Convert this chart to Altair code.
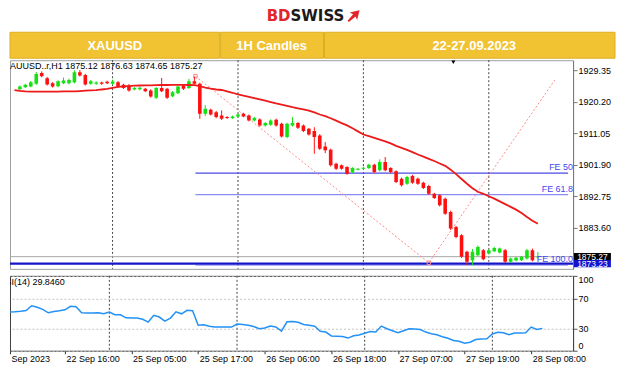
import json
import altair as alt
import pandas as pd

# ---------------- data ----------------
bars = list(range(96))
opens = [1923.84, 1924.42, 1924.63, 1925.38, 1928.56, 1927.03, 1925.58, 1924.71, 1925.58, 1925.58,
         1925.87, 1928.76, 1927.98, 1925.38, 1925.38, 1925.78, 1926.01, 1925.38, 1925.87, 1925.09,
         1925.00, 1923.76, 1923.80, 1923.93, 1923.47, 1921.32, 1924.21, 1923.93, 1921.82, 1922.68,
         1924.92, 1924.21, 1926.16, 1925.38, 1916.69, 1917.85, 1917.18, 1916.23, 1915.74, 1915.45,
         1915.94, 1916.69, 1916.23, 1914.78, 1915.07, 1913.33, 1913.51, 1914.96, 1913.80, 1909.95,
         1913.33, 1914.00, 1913.33, 1912.35, 1911.68, 1910.44, 1907.25, 1906.27, 1902.22, 1901.76,
         1901.26, 1899.81, 1900.48, 1900.77, 1900.97, 1901.93, 1900.31, 1902.71, 1900.97, 1900.02,
         1897.87, 1896.43, 1898.66, 1897.87, 1896.72, 1895.76, 1893.53, 1893.07, 1892.08, 1888.24,
         1883.89, 1881.49, 1876.66, 1874.25, 1875.70, 1877.15, 1876.16, 1876.86, 1876.45, 1877.15,
         1873.76, 1874.14, 1874.25, 1874.72, 1877.15, 1875.12]
highs = [1924.90, 1925.40, 1926.20, 1928.80, 1929.00, 1927.40, 1925.90, 1926.40, 1927.20, 1926.90,
         1929.30, 1929.40, 1928.30, 1926.50, 1926.10, 1926.00, 1926.30, 1926.60, 1926.20, 1925.40,
         1925.30, 1924.50, 1924.60, 1924.20, 1923.80, 1924.50, 1927.10, 1924.20, 1923.30, 1924.90,
         1925.20, 1926.83, 1927.52, 1925.70, 1919.21, 1918.20, 1917.50, 1917.68, 1916.00, 1916.20,
         1916.80, 1917.00, 1916.50, 1915.80, 1915.40, 1914.30, 1915.10, 1915.30, 1914.10, 1914.10,
         1915.74, 1914.30, 1913.60, 1912.60, 1912.80, 1910.80, 1908.50, 1906.60, 1902.50, 1902.00,
         1901.50, 1901.20, 1901.00, 1901.30, 1902.20, 1902.20, 1903.50, 1904.16, 1901.20, 1900.30,
         1898.20, 1898.70, 1899.00, 1898.20, 1897.00, 1896.10, 1893.80, 1893.40, 1892.40, 1888.60,
         1884.20, 1881.80, 1877.00, 1877.52, 1878.50, 1877.50, 1877.40, 1878.10, 1877.90, 1877.50,
         1875.00, 1875.20, 1875.50, 1877.50, 1877.60, 1876.63]
lows = [1923.60, 1924.20, 1924.40, 1925.10, 1927.30, 1924.90, 1924.30, 1924.40, 1925.30, 1925.20,
        1925.50, 1927.50, 1924.90, 1925.10, 1925.10, 1925.10, 1925.30, 1925.10, 1924.30, 1923.90,
        1923.10, 1923.50, 1923.50, 1923.00, 1921.40, 1921.00, 1923.00, 1921.00, 1921.50, 1922.40,
        1923.60, 1923.90, 1925.10, 1915.25, 1916.03, 1916.20, 1915.40, 1914.90, 1915.20, 1915.20,
        1915.70, 1915.70, 1914.50, 1914.50, 1913.00, 1913.00, 1913.20, 1913.00, 1909.80, 1909.60,
        1913.00, 1912.30, 1911.40, 1910.40, 1905.11, 1906.20, 1905.30, 1901.40, 1900.40, 1900.50,
        1899.00, 1899.50, 1900.30, 1900.50, 1900.70, 1899.50, 1900.00, 1900.00, 1899.50, 1896.60,
        1895.60, 1896.10, 1896.40, 1896.10, 1894.90, 1893.20, 1892.00, 1889.80, 1887.40, 1883.00,
        1880.60, 1874.90, 1872.80, 1872.80, 1875.40, 1874.20, 1875.90, 1876.60, 1876.20, 1873.40,
        1873.50, 1873.90, 1874.00, 1874.40, 1873.90, 1874.65]
closes = [1924.63, 1925.09, 1925.87, 1928.27, 1927.61, 1925.20, 1924.63, 1926.16, 1926.36, 1926.53,
          1928.76, 1927.81, 1925.20, 1926.16, 1925.78, 1925.38, 1925.58, 1926.07, 1924.63, 1924.21,
          1923.47, 1924.21, 1924.25, 1923.27, 1921.73, 1924.21, 1923.27, 1921.32, 1922.98, 1924.63,
          1923.93, 1926.16, 1925.38, 1916.69, 1918.14, 1916.52, 1915.74, 1915.25, 1915.45, 1915.94,
          1916.52, 1915.94, 1914.78, 1915.45, 1913.33, 1914.00, 1914.78, 1913.33, 1910.15, 1913.80,
          1914.00, 1912.64, 1911.68, 1910.73, 1909.95, 1906.56, 1906.10, 1901.76, 1900.77, 1900.77,
          1899.32, 1900.97, 1900.77, 1901.06, 1901.93, 1899.81, 1902.71, 1900.31, 1899.81, 1896.93,
          1895.96, 1898.37, 1896.72, 1896.43, 1895.18, 1893.53, 1892.29, 1890.17, 1887.74, 1883.40,
          1881.00, 1875.21, 1873.76, 1876.66, 1878.10, 1874.54, 1877.15, 1877.81, 1877.61, 1873.76,
          1874.72, 1874.92, 1875.21, 1877.15, 1874.25, 1875.27]

ind_bars = list(range(-1, 96))
ma_values = [1923.55, 1923.35, 1923.2, 1923.15, 1923.15, 1923.15, 1923.15, 1923.15, 1923.15, 1923.2,
             1923.2, 1923.2, 1923.3, 1923.4, 1923.5, 1923.55, 1923.75, 1923.9, 1924.2, 1924.5,
             1924.65, 1924.75, 1924.85, 1924.9, 1924.92, 1924.95, 1925.0, 1925.05, 1925.05, 1925.1,
             1925.1, 1925.1, 1925.05, 1925.0, 1924.7, 1924.3, 1924.0, 1923.75, 1923.6, 1923.2,
             1922.8, 1922.35, 1921.95, 1921.6, 1921.25, 1920.9, 1920.5, 1920.1, 1919.7, 1919.35,
             1919.0, 1918.6, 1918.3, 1917.95, 1917.6, 1917.1, 1916.5, 1916.0, 1915.4, 1914.7,
             1914.0, 1913.35, 1912.5, 1911.6, 1910.7, 1910.2, 1909.7, 1909.2, 1908.7, 1908.1,
             1907.4, 1906.8, 1906.25, 1905.6, 1904.9, 1904.3, 1903.65, 1903.0, 1902.3, 1901.6,
             1900.5, 1899.2, 1897.8, 1896.4, 1895.1, 1894.1, 1893.5, 1892.8, 1892.1, 1891.3,
             1890.5, 1889.7, 1888.9, 1887.9, 1886.8, 1885.7, 1884.8]
rsi_values = [51.6, 52.0, 52.7, 53.6, 60.0, 58.0, 55.3, 50.7, 52.4, 53.3,
              54.7, 59.3, 58.7, 50.7, 50.3, 50.3, 50.7, 49.3, 51.6, 48.0,
              48.0, 44.0, 43.7, 43.6, 42.0, 38.3, 47.3, 45.0, 39.6, 43.6,
              52.0, 49.3, 54.0, 53.3, 34.0, 34.7, 32.7, 31.6, 31.6, 31.6,
              31.6, 35.6, 35.0, 34.0, 32.3, 29.3, 30.3, 32.9, 31.7, 26.3,
              38.7, 39.0, 38.0, 35.0, 34.0, 32.7, 26.0, 24.9, 19.7, 19.3,
              19.0, 16.9, 20.0, 20.9, 23.3, 25.6, 24.9, 32.9, 29.3, 26.7,
              24.0, 26.7, 29.3, 28.9, 28.4, 24.9, 22.7, 21.3, 18.7, 16.7,
              13.7, 12.7, 10.0, 11.3, 14.9, 15.6, 16.0, 22.4, 24.7, 24.0,
              21.3, 23.6, 23.7, 24.0, 31.6, 28.4, 29.846]

tick_bars = [-0.9, 9, 21, 33, 45, 57, 69, 81, 93]
tick_labels = ["Sep 2023", "22 Sep 16:00", "25 Sep 05:00", "25 Sep 17:00", "26 Sep 06:00",
               "26 Sep 18:00", "27 Sep 07:00", "27 Sep 19:00", "28 Sep 08:00"]
day_separator_bars = [17, 40, 63, 86]
shift_marker_bar = [79.5]

price_ticks = [1929.35, 1920.20, 1911.05, 1901.90, 1892.75, 1883.60]
rsi_ticks = [0, 30, 70, 100]

fe_names = ["FE 50", "FE 61.8", "FE 100.0"]
fe_prices = [1899.52, 1893.24, 1872.80]
fe_start_bar = 32.2
fe_path_bars = [32.2, 75.0, 98.1]
fe_path_prices = [1927.6, 1873.5, 1926.5]

marker_prices = [1875.27, 1873.23]

banner_labels = ["XAUUSD", "1H Candles", "22-27.09.2023"]
logo_parts = ["BD", "SWISS"]

# ---------------- layout / style ----------------
FONT = "Liberation Sans"
GREEN = "#14e014"
RED = "#ff1010"
FE_COLORS = ["#4b4be6", "#8a8af2", "#9c9cf6"]
MARKER_COLORS = ["#000000", "#1414d0"]
W = 564
H_HEAD = 50
H_PRICE = 209
H_RSI = 75
X_DOMAIN = [-0.9, 100.54]
P_DOMAIN = [1871.73, 1932.24]
BANNER_CELLS = [(0, 210), (211, 314), (315, 606)]
BANNER_TEXT_X = [105, 262, 465]
ARROW_PATH = "M 1 -1 L -0.6 -0.6 L -0.05 -0.35 L -0.95 0.75 L -0.75 0.95 L 0.35 0.05 L 0.6 0.6 Z"

xscale = alt.Scale(domain=X_DOMAIN, nice=False, zero=False)
pscale = alt.Scale(domain=P_DOMAIN, nice=False, zero=False)
rscale = alt.Scale(domain=[0, 100], nice=False, zero=False)

paxis = alt.Axis(orient="right", values=price_ticks, format=".2f", title=None, grid=False,
                 tickSize=4, tickColor="#777", domainColor="#777", labelFont=FONT,
                 labelFontSize=9, labelColor="#000", labelPadding=1)
label_expr = f"{json.dumps(tick_labels)}[indexof({json.dumps(tick_bars)}, datum.value)]"
rxaxis = alt.Axis(values=tick_bars, labelExpr=label_expr, title=None, grid=False, domain=False,
                  tickSize=3, tickColor="#333", labelAlign="left", labelBaseline="top",
                  labelPadding=1, labelOffset=1, labelOverlap=False, labelFont=FONT,
                  labelFontSize=9, labelColor="#000")
ryaxis = alt.Axis(orient="right", values=rsi_ticks, title=None, grid=True, gridDash=[2, 2],
                  gridColor="#c4c4c4", labelFlush=True, tickSize=4, tickColor="#555",
                  domainColor="#444", labelFont=FONT, labelFontSize=9, labelColor="#000",
                  labelPadding=1)


def px(field):
    return alt.X(f"{field}:Q", scale=xscale, axis=None)


def py(field):
    return alt.Y(f"{field}:Q", scale=pscale, axis=paxis)


def rx(field):
    return alt.X(f"{field}:Q", scale=xscale, axis=rxaxis)


# ---------------- header ----------------
head_layers = []
for label, (x0, x1), tx in zip(banner_labels, BANNER_CELLS, BANNER_TEXT_X):
    d = pd.DataFrame({"label": [label]})
    head_layers.append(alt.Chart(d).mark_rect(fill="#F1C232", stroke="#DDAE22", strokeWidth=1).encode(
        x=alt.value(x0), x2=alt.value(x1), y=alt.value(24), y2=alt.value(50)))
    head_layers.append(alt.Chart(d).mark_text(font=FONT, fontSize=13, fontWeight="bold", color="white",
                                              align="center", baseline="middle").encode(
        x=alt.value(tx), y=alt.value(37.5), text="label:N"))
logo_bd = alt.Chart(pd.DataFrame({"t": [logo_parts[0]]})).mark_text(
    font="DejaVu Sans", fontSize=15, fontWeight="bold", color="#e3242b", align="right", baseline="top"
).encode(x=alt.value(281), y=alt.value(1), text="t:N")
logo_sw = alt.Chart(pd.DataFrame({"t": [logo_parts[1]]})).mark_text(
    font="DejaVu Sans", fontSize=15, fontWeight="bold", color="#1a1a1a", align="left", baseline="top"
).encode(x=alt.value(281), y=alt.value(1), text="t:N")
logo_arrow = alt.Chart(pd.DataFrame({"t": [1]})).mark_point(
    shape=ARROW_PATH, filled=True, color="#e3242b", size=150, opacity=1
).encode(x=alt.value(344), y=alt.value(8))
header = alt.layer(*head_layers, logo_bd, logo_sw, logo_arrow).properties(
    width=W, height=H_HEAD, view=alt.ViewBackground(stroke=None))

# ---------------- price panel ----------------
candles = pd.DataFrame({"bar": bars, "open": opens, "high": highs, "low": lows, "close": closes})
up = candles[candles["close"] >= candles["open"]]
down = candles[candles["close"] < candles["open"]]

ind = pd.DataFrame({"bar": ind_bars, "ma": ma_values, "rsi": rsi_values})

candle_layers = []
for d, col in ((up, GREEN), (down, RED)):
    candle_layers.append(alt.Chart(d).mark_rule(strokeWidth=1, color=col, clip=True).encode(
        x=px("bar"), y=py("low"), y2="high:Q"))
    candle_layers.append(alt.Chart(d).mark_bar(size=3.6, color=col, clip=True).encode(
        x=px("bar"), y=py("open"), y2="close:Q"))

ma_line = alt.Chart(ind).mark_line(color="#ec1a1a", strokeWidth=1.8, clip=True).encode(
    x=px("bar"), y=py("ma"))

seps = pd.DataFrame({"bar": day_separator_bars})
sep_price = alt.Chart(seps).mark_rule(color="#444", strokeDash=[2, 2], strokeWidth=1).encode(x=px("bar"))

fe_path = pd.DataFrame({"bar": fe_path_bars, "price": fe_path_prices})
fe_line = alt.Chart(fe_path).mark_line(color="#ff8a8a", strokeDash=[2, 2], strokeWidth=1, clip=True).encode(
    x=px("bar"), y=py("price"))
fe_pts = alt.Chart(fe_path.iloc[:2]).mark_point(shape="square", size=12, color="#ff8a8a", strokeWidth=1,
                                                  filled=False, opacity=1, clip=True).encode(
    x=px("bar"), y=py("price"))

fe_df = pd.DataFrame({"name": fe_names, "price": fe_prices, "start": [fe_start_bar] * 3,
                      "end": [X_DOMAIN[1]] * 3})
fe_rules = [
    alt.Chart(fe_df.iloc[[k]]).mark_rule(strokeWidth=1.2, color=FE_COLORS[k]).encode(
        x=px("start"), x2="end:Q", y=py("price"))
    for k in range(len(fe_names))
]
fe_text = alt.Chart(fe_df).mark_text(font=FONT, fontSize=9, color="#4646ee", align="right",
                                     baseline="bottom", dy=-1).encode(
    x=alt.value(W), y=py("price"), text="name:N")

marks_df = pd.DataFrame({"price": marker_prices, "label": [f"{p:.2f}" for p in marker_prices]})
bid_rule = alt.Chart(marks_df.iloc[[0]]).mark_rule(color="#a8a8a8", strokeWidth=1).encode(
    x=alt.value(0), x2=alt.value(W), y=py("price"))
level_rule = alt.Chart(marks_df.iloc[[1]]).mark_rule(color="#1616c8", strokeWidth=2.2).encode(
    x=alt.value(0), x2=alt.value(W), y=py("price"))
boxes = [
    alt.Chart(marks_df.iloc[[k]]).mark_tick(thickness=7.2, size=37, opacity=1, color=MARKER_COLORS[k]).encode(
        x=alt.value(583.4), y=py("price"))
    for k in range(len(marker_prices))
]
box_text = alt.Chart(marks_df).mark_text(font=FONT, fontSize=8.5, color="white", align="center",
                                         baseline="middle").encode(
    x=alt.value(583.4), y=py("price"), text="label:N")

info = f"XAUUSD..r,H1 {opens[-1]:.2f} {highs[-1]:.2f} {lows[-1]:.2f} {closes[-1]:.2f}"
info_text = alt.Chart(pd.DataFrame({"t": [info]})).mark_text(
    font=FONT, fontSize=9, color="#000", align="left", baseline="top", clip=True
).encode(x=alt.value(-6), y=alt.value(2), text="t:N")
shift_mark = alt.Chart(pd.DataFrame({"bar": shift_marker_bar})).mark_point(
    shape="triangle-down", filled=True, color="#000", size=16, opacity=1
).encode(x=px("bar"), y=alt.value(2))

price = alt.layer(
    sep_price, *fe_rules, bid_rule, level_rule, fe_line, fe_pts, *candle_layers, ma_line,
    fe_text, *boxes, box_text, info_text, shift_mark
).properties(width=W, height=H_PRICE, view=alt.ViewBackground(stroke="#a0a0a0"))

# ---------------- RSI panel ----------------
rsi_line = alt.Chart(ind).mark_line(color="#2391f5", strokeWidth=1.5, clip=True).encode(
    x=rx("bar"), y=alt.Y("rsi:Q", scale=rscale, axis=ryaxis))
sep_rsi = alt.Chart(seps).mark_rule(color="#444", strokeDash=[2, 2], strokeWidth=1).encode(x=rx("bar"))
rsi_label = f"RSI(14) {rsi_values[-1]:.4f}"
rsi_text = alt.Chart(pd.DataFrame({"t": [rsi_label]})).mark_text(
    font=FONT, fontSize=9, color="#000", align="left", baseline="top", clip=True
).encode(x=alt.value(-11), y=alt.value(2), text="t:N")
rsi = alt.layer(sep_rsi, rsi_line, rsi_text).properties(
    width=W, height=H_RSI, view=alt.ViewBackground(stroke="#404040"))

chart = alt.vconcat(header, alt.vconcat(price, rsi, spacing=5), spacing=0, padding=0).configure_view(
    stroke=None).configure(background="white")

chart.save("out.html", embed_options={"renderer": "svg", "actions": False})
